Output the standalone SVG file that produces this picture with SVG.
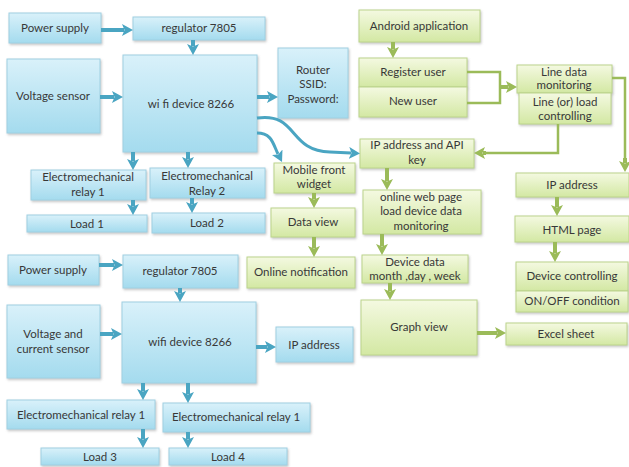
<svg xmlns="http://www.w3.org/2000/svg" width="629" height="467" viewBox="0 0 629 467">
<defs>
<linearGradient id="gb" x1="0" y1="0" x2="0" y2="1">
<stop offset="0" stop-color="#d9f1fa"/>
<stop offset="1" stop-color="#a4dbee"/>
</linearGradient>
<linearGradient id="gg" x1="0" y1="0" x2="0" y2="1">
<stop offset="0" stop-color="#f4f9e1"/>
<stop offset="1" stop-color="#d3e8a3"/>
</linearGradient>
<filter id="sh" x="-10%" y="-10%" width="130%" height="140%">
<feDropShadow dx="1" dy="1.5" stdDeviation="1" flood-color="#808080" flood-opacity="0.45"/>
</filter>
<marker id="ab" markerUnits="userSpaceOnUse" markerWidth="11" markerHeight="12" viewBox="0 0 11 12" refX="2" refY="6" orient="auto">
<path d="M0,0 L11,6 L0,12 L2.5,6 z" fill="#4aa5c2"/>
</marker>
<marker id="ag" markerUnits="userSpaceOnUse" markerWidth="11" markerHeight="12" viewBox="0 0 11 12" refX="2" refY="6" orient="auto">
<path d="M0,0 L11,6 L0,12 L2.5,6 z" fill="#9bbb59"/>
</marker>
</defs>
<style>
.b{fill:url(#gb);stroke:#9fd0e2;stroke-width:1;filter:url(#sh)}
.g{fill:url(#gg);stroke:#bcd48c;stroke-width:1;filter:url(#sh)}
text{font-family:Lato,"Liberation Sans",sans-serif;font-size:11.5px;fill:#383838;text-anchor:middle}
.cb{fill:none;stroke:#4aa5c2;stroke-width:4;marker-end:url(#ab)}
.cbt{fill:none;stroke:#4aa5c2;stroke-width:3;marker-end:url(#ab)}
.cg{fill:none;stroke:#9bbb59;stroke-width:4;marker-end:url(#ag)}
.cgt{fill:none;stroke:#9bbb59;stroke-width:2.5}
</style>
<rect width="629" height="467" fill="#fff"/>

<!-- top blue section -->
<g id="ps1"><rect class="b" x="9" y="13" width="92" height="30"/><text x="55" y="32">Power supply</text></g>
<g id="reg1"><rect class="b" x="133" y="17" width="132" height="23"/><text x="199" y="32">regulator 7805</text></g>
<g id="vs1"><rect class="b" x="7" y="59" width="93" height="74"/><text x="53" y="100">Voltage sensor</text></g>
<g id="wifi1"><rect class="b" x="123" y="55" width="134" height="97"/><text x="191" y="108">wi fi device  8266</text></g>
<g id="router"><rect class="b" x="278" y="48" width="70" height="70"/><text x="313" y="74">Router</text><text x="313" y="88">SSID:</text><text x="313" y="103">Password:</text></g>
<g id="relay1"><rect class="b" x="31" y="170" width="115" height="30"/><text x="88" y="181">Electromechanical</text><text x="88" y="196">relay 1</text></g>
<g id="relay2"><rect class="b" x="150" y="168" width="115" height="30"/><text x="207" y="180">Electromechanical</text><text x="207" y="195">Relay 2</text></g>
<g id="load1"><rect class="b" x="27" y="215" width="120" height="17"/><text x="87" y="228">Load 1</text></g>
<g id="load2"><rect class="b" x="152" y="213" width="113" height="20"/><text x="207" y="227">Load 2</text></g>

<!-- bottom blue section -->
<g id="ps2"><rect class="b" x="8" y="255" width="91" height="30"/><text x="53" y="274">Power supply</text></g>
<g id="reg2"><rect class="b" x="123" y="255" width="115" height="33"/><text x="180" y="275">regulator 7805</text></g>
<g id="vcs"><rect class="b" x="7" y="305" width="93" height="73"/><text x="53" y="338">Voltage and</text><text x="53" y="353">current  sensor</text></g>
<g id="wifi2"><rect class="b" x="122" y="302" width="134" height="81"/><text x="190" y="346">wifi  device  8266</text></g>
<g id="ip2"><rect class="b" x="276" y="327" width="77" height="35"/><text x="314" y="349">IP address</text></g>
<g id="relay3"><rect class="b" x="7" y="400" width="148" height="29"/><text x="81" y="419">Electromechanical relay 1</text></g>
<g id="relay4"><rect class="b" x="163" y="403" width="147" height="29"/><text x="236" y="421">Electromechanical relay 1</text></g>
<g id="load3"><rect class="b" x="41" y="448" width="118" height="17"/><text x="100" y="461">Load 3</text></g>
<g id="load4"><rect class="b" x="169" y="448" width="118" height="17"/><text x="228" y="461">Load 4</text></g>

<!-- green section -->
<g id="mobile"><rect class="g" x="274" y="163" width="81" height="30"/><text x="314" y="174">Mobile front</text><text x="314" y="188">widget</text></g>
<g id="dataview"><rect class="g" x="271" y="208" width="84" height="29"/><text x="313" y="226">Data view</text></g>
<g id="notif"><rect class="g" x="247" y="257" width="108" height="31"/><text x="301" y="276">Online notification</text></g>
<g id="android"><rect class="g" x="359" y="10" width="121" height="32"/><text x="419" y="30">Android application</text></g>
<g id="register"><rect class="g" x="359" y="58" width="108" height="29"/><text x="413" y="76">Register user</text></g>
<g id="newuser"><rect class="g" x="359" y="87" width="108" height="30"/><text x="413" y="105">New user</text></g>
<g id="linedata"><rect class="g" x="517" y="65" width="95" height="28"/><text x="564" y="76">Line data</text><text x="564" y="89">monitoring</text></g>
<g id="lineload"><rect class="g" x="519" y="93" width="92" height="31"/><text x="565" y="106">Line (or) load</text><text x="565" y="120">controlling</text></g>
<g id="ipapi"><rect class="g" x="360" y="139" width="114" height="29"/><text x="417" y="149">IP address and API</text><text x="417" y="164">key</text></g>
<g id="webpage"><rect class="g" x="363" y="190" width="118" height="44"/><text x="421" y="201">online web page</text><text x="421" y="215">load device data</text><text x="421" y="230">monitoring</text></g>
<g id="devdata"><rect class="g" x="362" y="255" width="106" height="28"/><text x="415" y="266">Device data</text><text x="415" y="280">month ,day , week</text></g>
<g id="graph"><rect class="g" x="361" y="300" width="116" height="55"/><text x="419" y="331">Graph view</text></g>
<g id="excel"><rect class="g" x="506" y="323" width="121" height="22"/><text x="566" y="338">Excel sheet</text></g>
<g id="ip3"><rect class="g" x="516" y="173" width="113" height="24"/><text x="572" y="189">IP address</text></g>
<g id="html"><rect class="g" x="515" y="216" width="114" height="26"/><text x="572" y="234">HTML page</text></g>
<g id="devctrl"><rect class="g" x="516" y="262" width="112" height="29"/><text x="572" y="280">Device controlling</text></g>
<g id="onoff"><rect class="g" x="516" y="291" width="112" height="21"/><text x="572" y="305">ON/OFF condition</text></g>

<g id="connectors">
<path class="cb" d="M101,30 L124,30"/>
<path class="cb" d="M193,40 L193,46"/>
<path class="cb" d="M100,97 L114,97"/>
<path class="cb" d="M257,97 L269,97"/>
<path class="cb" d="M133,152 L133,161"/>
<path class="cb" d="M188,152 L188,159"/>
<path class="cb" d="M133,200 L133,206"/>
<path class="cb" d="M192,198 L192,204"/>
<path class="cbt" d="M257,118 C298,112 288,151 330,152 L351,153"/>
<path class="cbt" d="M257,133 C272,133 273,144 278,154"/>
<path class="cb" d="M99,265 L114,265"/>
<path class="cb" d="M180,288 L180,293"/>
<path class="cb" d="M100,334 L113,334"/>
<path class="cb" d="M256,347 L267,347"/>
<path class="cb" d="M143,383 L143,391"/>
<path class="cb" d="M188,383 L188,394"/>
<path class="cb" d="M143,429 L143,439"/>
<path class="cb" d="M188,432 L188,439"/>
<path class="cg" d="M393,42 L393,49"/>
<path class="cgt" d="M467,72 L500,72 L500,103 L467,103"/>
<path class="cg" d="M500,87 L508,87"/>
<path class="cgt" d="M612,78 L625,78 L625,160"/>
<path class="cg" d="M625,158 L625,163"/>
<path class="cgt" d="M558,124 L558,153 L484,153"/>
<path class="cg" d="M486,153 L483,153"/>
<path class="cg" d="M387,168 L387,181"/>
<path class="cg" d="M314,193 L314,199"/>
<path class="cg" d="M314,237 L314,248"/>
<path class="cg" d="M382,234 L382,246"/>
<path class="cg" d="M390,283 L390,291"/>
<path class="cg" d="M477,333 L497,333"/>
<path class="cg" d="M557,197 L557,207"/>
<path class="cg" d="M555,242 L555,253"/>
</g>
</svg>
